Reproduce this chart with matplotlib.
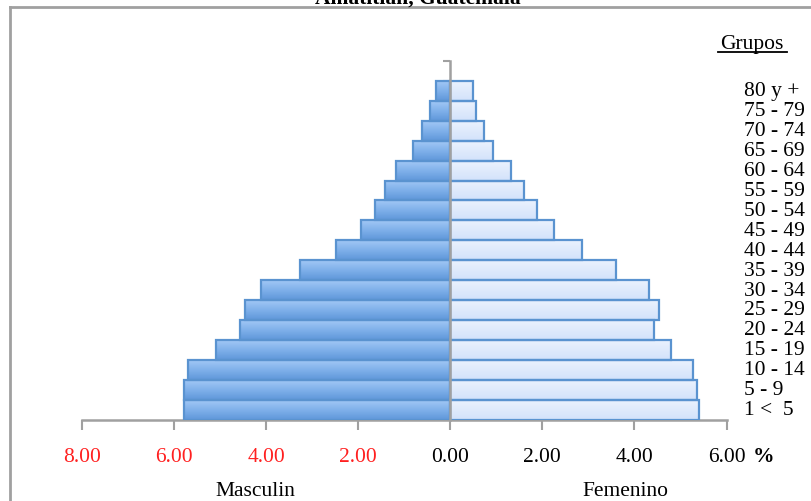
import numpy as np
import matplotlib
matplotlib.use('Agg')
import matplotlib.pyplot as plt
from matplotlib.lines import Line2D
from matplotlib.colors import LinearSegmentedColormap

plt.rcParams['font.family'] = ['Liberation Serif', 'DejaVu Serif']

#%% datos
grupos = ['1 <  5', '5 - 9', '10 - 14', '15 - 19', '20 - 24', '25 - 29',
          '30 - 34', '35 - 39', '40 - 44', '45 - 49', '50 - 54', '55 - 59',
          '60 - 64', '65 - 69', '70 - 74', '75 - 79', '80 y +']
masculino = [5.78, 5.78, 5.70, 5.08, 4.57, 4.45, 4.12, 3.26, 2.48, 1.94,
             1.63, 1.42, 1.17, 0.81, 0.62, 0.43, 0.31]
femenino = [5.40, 5.36, 5.28, 4.79, 4.43, 4.53, 4.32, 3.59, 2.87, 2.25,
            1.89, 1.60, 1.31, 0.93, 0.73, 0.55, 0.49]
xticks = [-8, -6, -4, -2, 0, 2, 4, 6]

W, H = 811, 502
fig = plt.figure(figsize=(W/100, H/100), dpi=100)
# ejes: x=-8 en px 82, x=6 en px 726.5 ; y de 62 a 420.5
ax = fig.add_axes([82/W, (H-420.5)/H, 644.5/W, 358.5/H])

cm_m = LinearSegmentedColormap.from_list('m', ['#5f97da', '#7fb0ea', '#a2c8f5'])
cm_f = LinearSegmentedColormap.from_list('f', ['#d2e2fb', '#dfeafc', '#eaf2fe'])
grad = np.linspace(0, 1, 64).reshape(-1, 1)

y = np.arange(len(grupos))
m = -np.array(masculino)
f = np.array(femenino)
bm = ax.barh(y, m, height=1.0, color='none', edgecolor='#5a93d0', linewidth=1.6, zorder=3)
bf = ax.barh(y, f, height=1.0, color='none', edgecolor='#5a93d0', linewidth=1.6, zorder=3)

# degradado dentro de cada barra
for bars, cmap in [(bm, cm_m), (bf, cm_f)]:
    for b in bars:
        x0, y0 = b.get_x(), b.get_y()
        w, h = b.get_width(), b.get_height()
        im = ax.imshow(grad, cmap=cmap, aspect='auto', origin='lower',
                       extent=[x0, x0 + w, y0, y0 + h], zorder=2)
        im.set_clip_path(b)

ax.set_xlim(-8, 6)
ax.set_ylim(-0.5, len(grupos) + 0.5)

gris = '#a0a0a0'
for s in ['top', 'right']:
    ax.spines[s].set_visible(False)
ax.spines['left'].set_position(('data', 0))
ax.spines['left'].set_color(gris)
ax.spines['left'].set_linewidth(1.8)
ax.spines['left'].set_zorder(4)
ax.spines['bottom'].set_color(gris)
ax.spines['bottom'].set_linewidth(1.8)
ax.set_yticks(np.arange(-0.5, len(grupos) + 1, 1.0))
ax.set_yticklabels([])
ax.tick_params(axis='y', direction='out', length=5, width=1.5, color=gris)
ax.set_xticks(xticks)
ax.set_xticklabels(['%.2f' % abs(v) for v in xticks], fontsize=15.5)
ax.tick_params(axis='x', direction='out', length=7, width=1.5, color=gris, pad=13)
for lab, v in zip(ax.get_xticklabels(), xticks):
    lab.set_color('#ff2020' if v < 0 else 'black')

# grupos de edad a la derecha
for i, g in enumerate(grupos):
    ax.text(6.38, i, g, va='center', ha='left', fontsize=15.5, clip_on=False)

fig.text(752/W, 1 - 44/H, 'Grupos', ha='center', va='center', fontsize=15.5)
fig.add_artist(Line2D([718/W, 787/W], [1 - 53/H, 1 - 53/H], color='black', lw=1.3))

fig.text(753/W, 1 - 457/H, '%', ha='left', va='center', fontsize=15.5, fontweight='bold')
fig.text(255/W, 1 - 492/H, 'Masculin', ha='center', va='center', fontsize=15.5)
fig.text(625/W, 1 - 492/H, 'Femenino', ha='center', va='center', fontsize=15.5)

# titulo (cortado arriba)
fig.text(418/W, 1 - 4/H, 'Amatitlán, Guatemala', ha='center', va='baseline',
         fontsize=15.5, fontweight='bold')

# marco
fig.add_artist(Line2D([10/W, 1.0], [1 - 8/H, 1 - 8/H], color=gris, lw=2))
fig.add_artist(Line2D([10/W, 10/W], [1 - 8/H, 0.0], color=gris, lw=2))

fig.savefig('out.png', dpi=100)
